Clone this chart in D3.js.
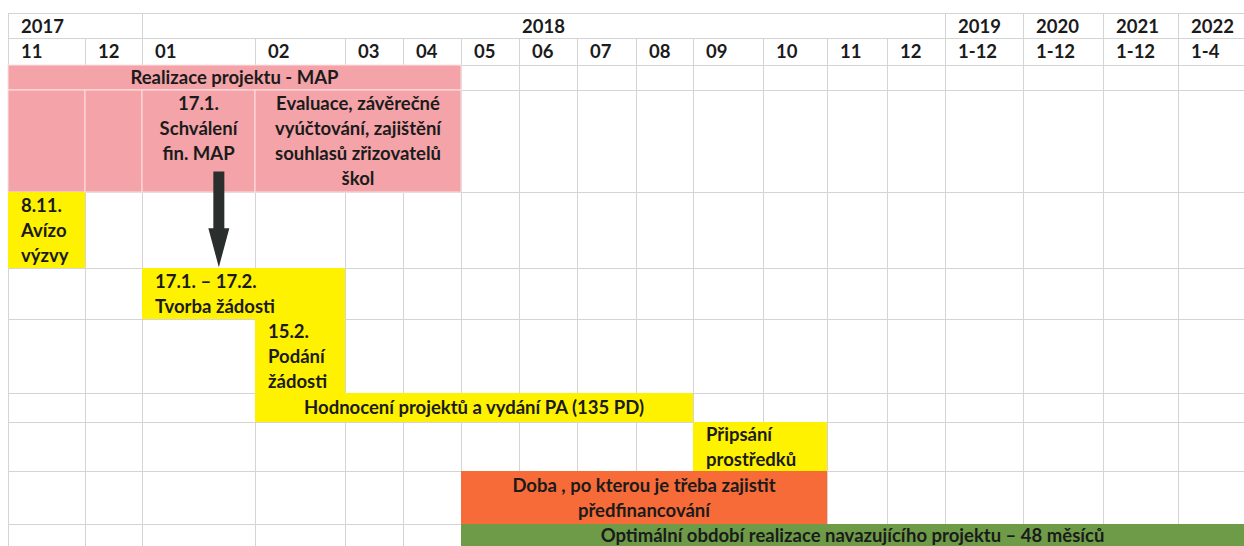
<!DOCTYPE html>
<html>
<head>
<meta charset="utf-8">
<script src="https://cdn.jsdelivr.net/npm/d3@7"></script>
<style>
  html, body { margin: 0; padding: 0; background: #fff; }
  svg { display: block; }
  text { font-family: Lato, "Noto Sans", sans-serif; font-weight: 700; fill: #1b1b1b; }
</style>
</head>
<body>
<figure id="gantt" style="margin:0"></figure>
<script>
// header: month columns and the years they belong to
const months = ["11", "12", "01", "02", "03", "04", "05", "06", "07", "08", "09", "10", "11", "12", "1-12", "1-12", "1-12", "1-4"];
const years = ["2017", "2018", "2019", "2020", "2021", "2022"];
const yearStart = [0, 2, 14, 15, 16, 17];   // first month column of each year
const yearEnd = [2, 14, 15, 16, 17, 18];

// activities: row, first column, end column (exclusive), kind, text lines
const taskRow = [2, 3, 3, 3, 3, 4, 5, 6, 7, 8, 9, 10];
const taskFrom = [0, 0, 1, 2, 3, 0, 2, 3, 3, 10, 6, 6];
const taskTo = [6, 1, 2, 3, 6, 1, 4, 4, 10, 12, 12, 18];
const taskKind = ["map", "map", "map", "map", "map", "call", "call", "call", "call", "call", "prefin", "project"];
const taskText = [
  ["Realizace projektu - MAP"],
  [],
  [],
  ["17.1.", "Schválení", "fin. MAP", ""],
  ["Evaluace, závěrečné", "vyúčtování, zajištění", "souhlasů zřizovatelů", "škol"],
  ["8.11.", "Avízo", "výzvy"],
  ["17.1. – 17.2.", "Tvorba žádosti"],
  ["15.2.", "Podání", "žádosti"],
  ["Hodnocení projektů a vydání PA (135 PD)"],
  ["Připsání", "prostředků"],
  ["Doba , po kterou je třeba zajistit", "předfinancování"],
  ["Optimální období realizace navazujícího projektu – 48 měsíců"]
];

// arrow from the approval cell down to the application bar (column / row coordinates)
const arrowCol = 2.68;
const arrowFrom = 3.8;
const arrowTo = 4.99;

// layout of the sheet (pixel edges of columns and rows)
const colEdges = [8, 85, 142, 255, 345, 403, 461, 519, 577, 636, 693, 763, 827, 887, 945, 1023, 1103, 1178, 1244];
const rowEdges = [13, 38, 65, 90, 192, 268, 319, 393, 422, 471, 524, 546];

const width = 1244, height = 546;
const fontSize = "18.5px";

const x = d3.scaleLinear().domain(d3.range(colEdges.length)).range(colEdges);
const y = d3.scaleLinear().domain(d3.range(rowEdges.length)).range(rowEdges);
const color = d3.scaleOrdinal()
  .domain(["map", "call", "prefin", "project"])
  .range(["#f4a3a8", "#fff200", "#f76b38", "#6e9b48"]);

const svg = d3.select("figure#gantt")
  .append("svg")
  .attr("width", width)
  .attr("height", height);

// grid
const grid = svg.append("g").attr("stroke", "#d4d4d4").attr("stroke-width", 1);
grid.selectAll("line.h")
  .data(d3.range(rowEdges.length - 1))
  .enter().append("line")
  .attr("x1", x(0)).attr("x2", x(months.length))
  .attr("y1", d => y(d) + 0.5).attr("y2", d => y(d) + 0.5);
grid.selectAll("line.v")
  .data(d3.range(months.length + 1))
  .enter().append("line")
  .attr("x1", d => x(d) + 0.5).attr("x2", d => x(d) + 0.5)
  .attr("y1", y(1)).attr("y2", height);
grid.selectAll("line.yv")
  .data(yearStart.concat([months.length]))
  .enter().append("line")
  .attr("x1", d => x(d) + 0.5).attr("x2", d => x(d) + 0.5)
  .attr("y1", y(0)).attr("y2", y(1));

// header labels
svg.append("g").selectAll("text")
  .data(years)
  .enter().append("text")
  .attr("x", (d, i) => (yearEnd[i] - yearStart[i] > 4) ? (x(yearStart[i]) + x(yearEnd[i])) / 2 : x(yearStart[i]) + 13)
  .attr("y", (y(0) + y(1)) / 2 + 1)
  .attr("dy", "0.36em")
  .attr("text-anchor", (d, i) => (yearEnd[i] - yearStart[i] > 4) ? "middle" : "start")
  .style("font-size", fontSize)
  .text(d => d);

svg.append("g").selectAll("text")
  .data(months)
  .enter().append("text")
  .attr("x", (d, i) => x(i) + 13)
  .attr("y", (y(1) + y(2)) / 2)
  .attr("dy", "0.36em")
  .style("font-size", fontSize)
  .text(d => d);

// bars
const tasks = taskRow.map((r, i) => ({
  row: r, from: taskFrom[i], to: taskTo[i], kind: taskKind[i], lines: taskText[i]
}));

svg.append("g").selectAll("rect")
  .data(tasks)
  .enter().append("rect")
  .attr("x", d => x(d.from))
  .attr("y", d => y(d.row))
  .attr("width", d => x(d.to) - x(d.from))
  .attr("height", d => y(d.row + 1) - y(d.row) + (d.row === rowEdges.length - 2 ? 10 : 0))
  .attr("fill", d => color(d.kind))
  .attr("stroke", d => d.kind === "map" ? "#fbe1e3" : "none")
  .attr("stroke-width", 1);

// bar labels
const lineH = 25;
const labels = svg.append("g").selectAll("text")
  .data(tasks)
  .enter().append("text")
  .style("font-size", fontSize)
  .attr("text-anchor", d => (d.kind === "call" && d.lines.length > 1) ? "start" : "middle");

labels.selectAll("tspan")
  .data(d => d.lines.map((t, k) => ({ t, k, d })))
  .enter().append("tspan")
  .attr("x", o => (o.d.kind === "call" && o.d.lines.length > 1) ? x(o.d.from) + 13 : (x(o.d.from) + x(o.d.to)) / 2)
  .attr("y", o => {
    const mid = (y(o.d.row) + y(o.d.row + 1)) / 2;
    return mid + (o.k - (o.d.lines.length - 1) / 2) * lineH;
  })
  .attr("dy", "0.36em")
  .text(o => o.t);

// arrow
const ax = x(arrowCol), ay0 = y(arrowFrom), ay1 = y(arrowTo);
const shaft = 5.5, head = 10.5, headLen = 39;
const arrowPath = d3.path();
arrowPath.moveTo(ax - shaft, ay0);
arrowPath.lineTo(ax + shaft, ay0);
arrowPath.lineTo(ax + shaft, ay1 - headLen);
arrowPath.lineTo(ax + head, ay1 - headLen);
arrowPath.lineTo(ax, ay1);
arrowPath.lineTo(ax - head, ay1 - headLen);
arrowPath.lineTo(ax - shaft, ay1 - headLen);
arrowPath.closePath();
svg.append("path")
  .attr("d", arrowPath.toString())
  .attr("fill", "#2a2e2d");
</script>
</body>
</html>
